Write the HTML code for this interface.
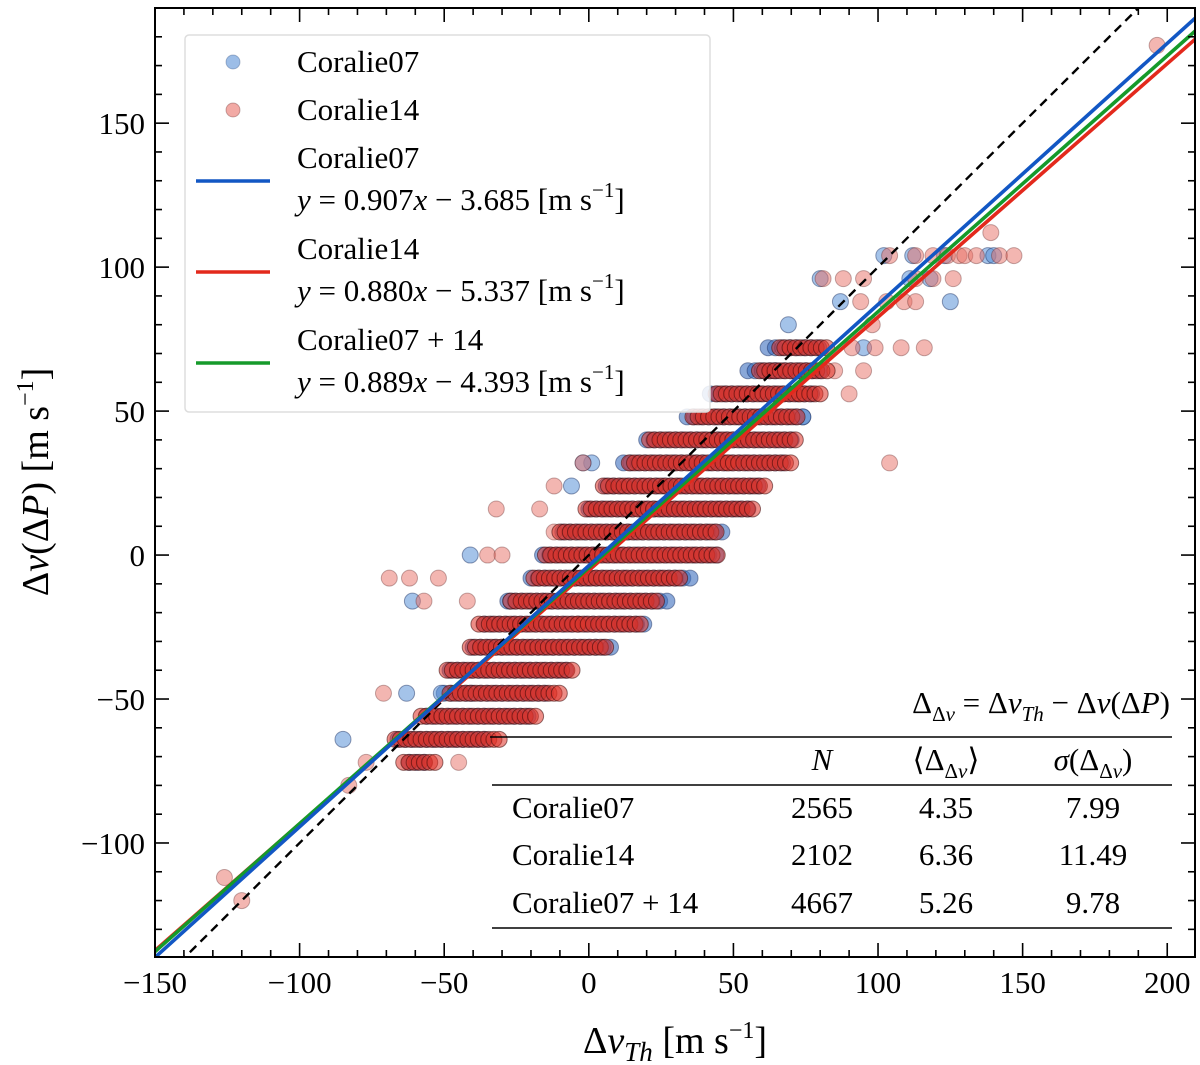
<!DOCTYPE html>
<html><head><meta charset="utf-8"><style>
html,body{margin:0;padding:0;background:#fff;}
svg{display:block;font-family:"Liberation Serif",serif;}
</style></head><body>
<svg id="chart" width="1200" height="1065" viewBox="0 0 1200 1065">
<defs><clipPath id="clip"><rect x="155" y="8" width="1040" height="949"/></clipPath></defs>
<g id="marks" clip-path="url(#clip)"></g>
<g id="axes"></g>
</svg>
<script>
// y levels of binned rows and dense-run extents (m/s)
const rowY     = [-72,-64,-56,-48,-40,-32,-24,-16,-8,0,8,16,24,32,40,48,56,64,72];
const redStart = [-64,-67,-58,-48,-49,-41,-38,-27,-19,-15,-10,-1,5,14,21,36,44,59,66];
const redEnd   = [-52,-31,-17,-10,-5,7,18,25,33,45,45,57,61,70,73,73,80,83,83];
const blueStart= [-62,-66,-56,-50,-48,-40,-36,-28,-20,-16,-9,0,6,12,20,34,42,55,62];
const blueEnd  = [-55,-35,-20,-13,-8,9,20,27,35,44,47,55,60,68,70,75,78,80,80];
// isolated outliers
const redOutX  = [-126,-120,-83,-77,-71,-45,-69,-62,-52,-57,-42,-35,-30,-12,-17,-32,-12,-2,48,104,-4,73,90,95,85,91,99,108,116,98,103,109,113,94,81,88,95,104,113,119,126,113,119,124,128,130,134,142,147,139,196.5];
const redOutY  = [-112,-120,-80,-72,-48,-72,-8,-8,-8,-16,-16,0,0,8,16,16,24,32,32,32,-24,56,56,64,64,72,72,72,72,80,88,88,88,88,96,96,96,104,96,96,96,104,104,104,104,104,104,104,104,112,177];
const blueOutX = [-85,-63,-51,-41,-61,-41,-27,-6,1,95,69,87,80,111,118,102,112,123,138,125,140,-2,74,64];
const blueOutY = [-64,-48,-48,-48,-16,0,-16,24,32,72,80,88,96,96,96,104,104,104,104,88,104,32,48,64];
// fit lines
const fitNames = ["coralie07","coralie14","coralie07-14"];
const slopes   = [0.907,0.880,0.889];
const inters   = [-3.685,-5.337,-4.393];
const fitColors= ["#1257c4","#e3291c","#159a2a"];
const xTicks = [-150,-100,-50,0,50,100,150,200];
const yTicks = [-100,-50,0,50,100,150];

const X0=155,X1=1195,Y0=8,Y1=957, xmin=-150,xmax=209.6,ymin=-139.6,ymax=190;
const sx=v=>X0+(v-xmin)/(xmax-xmin)*(X1-X0);
const sy=v=>Y1-(v-ymin)/(ymax-ymin)*(Y1-Y0);
const NS="http://www.w3.org/2000/svg";
const marks=document.getElementById('marks'), axes=document.getElementById('axes');
function mk(tag,attrs,parent){const e=document.createElementNS(NS,tag);for(const k in attrs)e.setAttribute(k,attrs[k]);parent.appendChild(e);return e;}
function dot(x,y,blue,g,dense){
  const fill=blue?(dense?'rgba(60,110,190,0.6)':'rgba(90,145,215,0.55)'):(dense?'rgba(222,48,36,0.55)':'rgba(232,110,100,0.5)');
  const stroke=blue?'rgba(20,40,90,0.45)':(dense?'rgba(60,10,10,0.55)':'rgba(90,30,30,0.35)');
  const c=mk('circle',{cx:sx(x),cy:sy(y),r:8,fill:fill,stroke:stroke,'stroke-width':1},g);
  
  
}
const gB=mk('g',{},marks);
const gR=mk('g',{},marks);
rowY.forEach((y,i)=>{for(let x=blueStart[i];x<=blueEnd[i];x+=2.5)dot(x,y,true,gB,true);});
blueOutX.forEach((x,i)=>dot(x,blueOutY[i],true,gB,false));
redOutX.forEach((x,i)=>dot(x,redOutY[i],false,gR,false));
rowY.forEach((y,i)=>{for(let x=redStart[i];x<=redEnd[i];x+=1.8)dot(x,y,false,gR,true);});
// one-to-one line
const d=mk('line',{x1:sx(-160),y1:sy(-160),x2:sx(220),y2:sy(220),stroke:'#000','stroke-width':2.4,'stroke-dasharray':'9,6'},marks);

[1,2,0].forEach(i=>{
  const l=mk('line',{x1:sx(-160),y1:sy(slopes[i]*-160+inters[i]),x2:sx(220),y2:sy(slopes[i]*220+inters[i]),stroke:fitColors[i],'stroke-width':3.6},marks);
  
});
// frame & ticks
const fr=mk('rect',{x:X0,y:Y0,width:X1-X0,height:Y1-Y0,fill:'none',stroke:'#000','stroke-width':2},axes);

for(let v=-150;v<=200;v+=10){const big=v%50==0,L=big?14:7;
  mk('line',{x1:sx(v),x2:sx(v),y1:Y1,y2:Y1-L,stroke:'#000','stroke-width':1.6},axes);
  mk('line',{x1:sx(v),x2:sx(v),y1:Y0,y2:Y0+L,stroke:'#000','stroke-width':1.6},axes);}
for(let v=-130;v<=190;v+=10){const big=v%50==0,L=big?14:7;
  mk('line',{y1:sy(v),y2:sy(v),x1:X0,x2:X0+L,stroke:'#000','stroke-width':1.6},axes);
  mk('line',{y1:sy(v),y2:sy(v),x1:X1,x2:X1-L,stroke:'#000','stroke-width':1.6},axes);}
const fmt=v=>v<0?'\u2212'+(-v):''+v;
xTicks.forEach(v=>{const t=mk('text',{x:sx(v),y:993,'font-size':31,'text-anchor':'middle'},axes);t.textContent=fmt(v);
  });
yTicks.forEach(v=>{const t=mk('text',{x:145,y:sy(v)+11,'font-size':31,'text-anchor':'end'},axes);t.textContent=fmt(v);
  });
</script>
<svg style="position:absolute;left:0;top:0" width="1200" height="1065">
<text x="675" y="1053" font-size="38" text-anchor="middle" font-family="Liberation Serif,serif">Δ<tspan font-style="italic">v</tspan><tspan font-style="italic" font-size="27" dy="8">Th</tspan><tspan dy="-8"> [m s</tspan><tspan font-size="24" dy="-15">−1</tspan><tspan dy="15">]</tspan></text>
<text transform="translate(48,482) rotate(-90)" font-size="38" text-anchor="middle" font-family="Liberation Serif,serif">Δ<tspan font-style="italic">v</tspan>(Δ<tspan font-style="italic">P</tspan>) [m s<tspan font-size="24" dy="-15">−1</tspan><tspan dy="15">]</tspan></text>
<g font-family="Liberation Serif,serif" font-size="31">
<rect x="185" y="35" width="525" height="377" rx="4" fill="rgba(255,255,255,0.85)" stroke="#ddd" stroke-width="1.5"/>
<circle cx="233" cy="62" r="7" fill="rgba(90,145,215,0.6)" stroke="rgba(30,60,110,0.3)"/>
<text x="297" y="72">Coralie07</text>
<circle cx="233" cy="110" r="7" fill="rgba(230,85,75,0.5)" stroke="rgba(80,20,20,0.3)"/>
<text x="297" y="120">Coralie14</text>
<line x1="196" x2="270" y1="181" y2="181" stroke="#1257c4" stroke-width="3.5"/>
<text x="297" y="168">Coralie07</text>
<text x="297" y="210"><tspan font-style="italic">y</tspan> = 0.907<tspan font-style="italic">x</tspan> − 3.685 [m s<tspan font-size="21" dy="-13">−1</tspan><tspan dy="13">]</tspan></text>
<line x1="196" x2="270" y1="272" y2="272" stroke="#e3291c" stroke-width="3.5"/>
<text x="297" y="259">Coralie14</text>
<text x="297" y="301"><tspan font-style="italic">y</tspan> = 0.880<tspan font-style="italic">x</tspan> − 5.337 [m s<tspan font-size="21" dy="-13">−1</tspan><tspan dy="13">]</tspan></text>
<line x1="196" x2="270" y1="363" y2="363" stroke="#159a2a" stroke-width="3.5"/>
<text x="297" y="350">Coralie07 + 14</text>
<text x="297" y="392"><tspan font-style="italic">y</tspan> = 0.889<tspan font-style="italic">x</tspan> − 4.393 [m s<tspan font-size="21" dy="-13">−1</tspan><tspan dy="13">]</tspan></text>
</g>
<g font-family="Liberation Serif,serif" font-size="31">
<text x="1170" y="713" text-anchor="end">Δ<tspan font-size="21" dy="8">Δ<tspan font-style="italic">v</tspan></tspan><tspan dy="-8"> = Δ</tspan><tspan font-style="italic">v</tspan><tspan font-style="italic" font-size="21" dy="8">Th</tspan><tspan dy="-8"> − Δ</tspan><tspan font-style="italic">v</tspan>(Δ<tspan font-style="italic">P</tspan>)</text>
<line x1="490" x2="1172" y1="737" y2="737" stroke="#000" stroke-width="1.5"/>
<text x="822" y="770" text-anchor="middle" font-style="italic">N</text>
<text x="946" y="770" text-anchor="middle">⟨Δ<tspan font-size="21" dy="8">Δ<tspan font-style="italic">v</tspan></tspan><tspan dy="-8">⟩</tspan></text>
<text x="1093" y="770" text-anchor="middle"><tspan font-style="italic">σ</tspan>(Δ<tspan font-size="21" dy="8">Δ<tspan font-style="italic">v</tspan></tspan><tspan dy="-8">)</tspan></text>
<line x1="492" x2="1172" y1="785" y2="785" stroke="#000" stroke-width="1.5"/>
<text x="512" y="818">Coralie07</text><text x="822" y="818" text-anchor="middle">2565</text><text x="946" y="818" text-anchor="middle">4.35</text><text x="1093" y="818" text-anchor="middle">7.99</text>
<text x="512" y="865">Coralie14</text><text x="822" y="865" text-anchor="middle">2102</text><text x="946" y="865" text-anchor="middle">6.36</text><text x="1093" y="865" text-anchor="middle">11.49</text>
<text x="512" y="913">Coralie07 + 14</text><text x="822" y="913" text-anchor="middle">4667</text><text x="946" y="913" text-anchor="middle">5.26</text><text x="1093" y="913" text-anchor="middle">9.78</text>
<line x1="492" x2="1172" y1="928" y2="928" stroke="#000" stroke-width="1.5"/>
</g>
</svg>
</body></html>
